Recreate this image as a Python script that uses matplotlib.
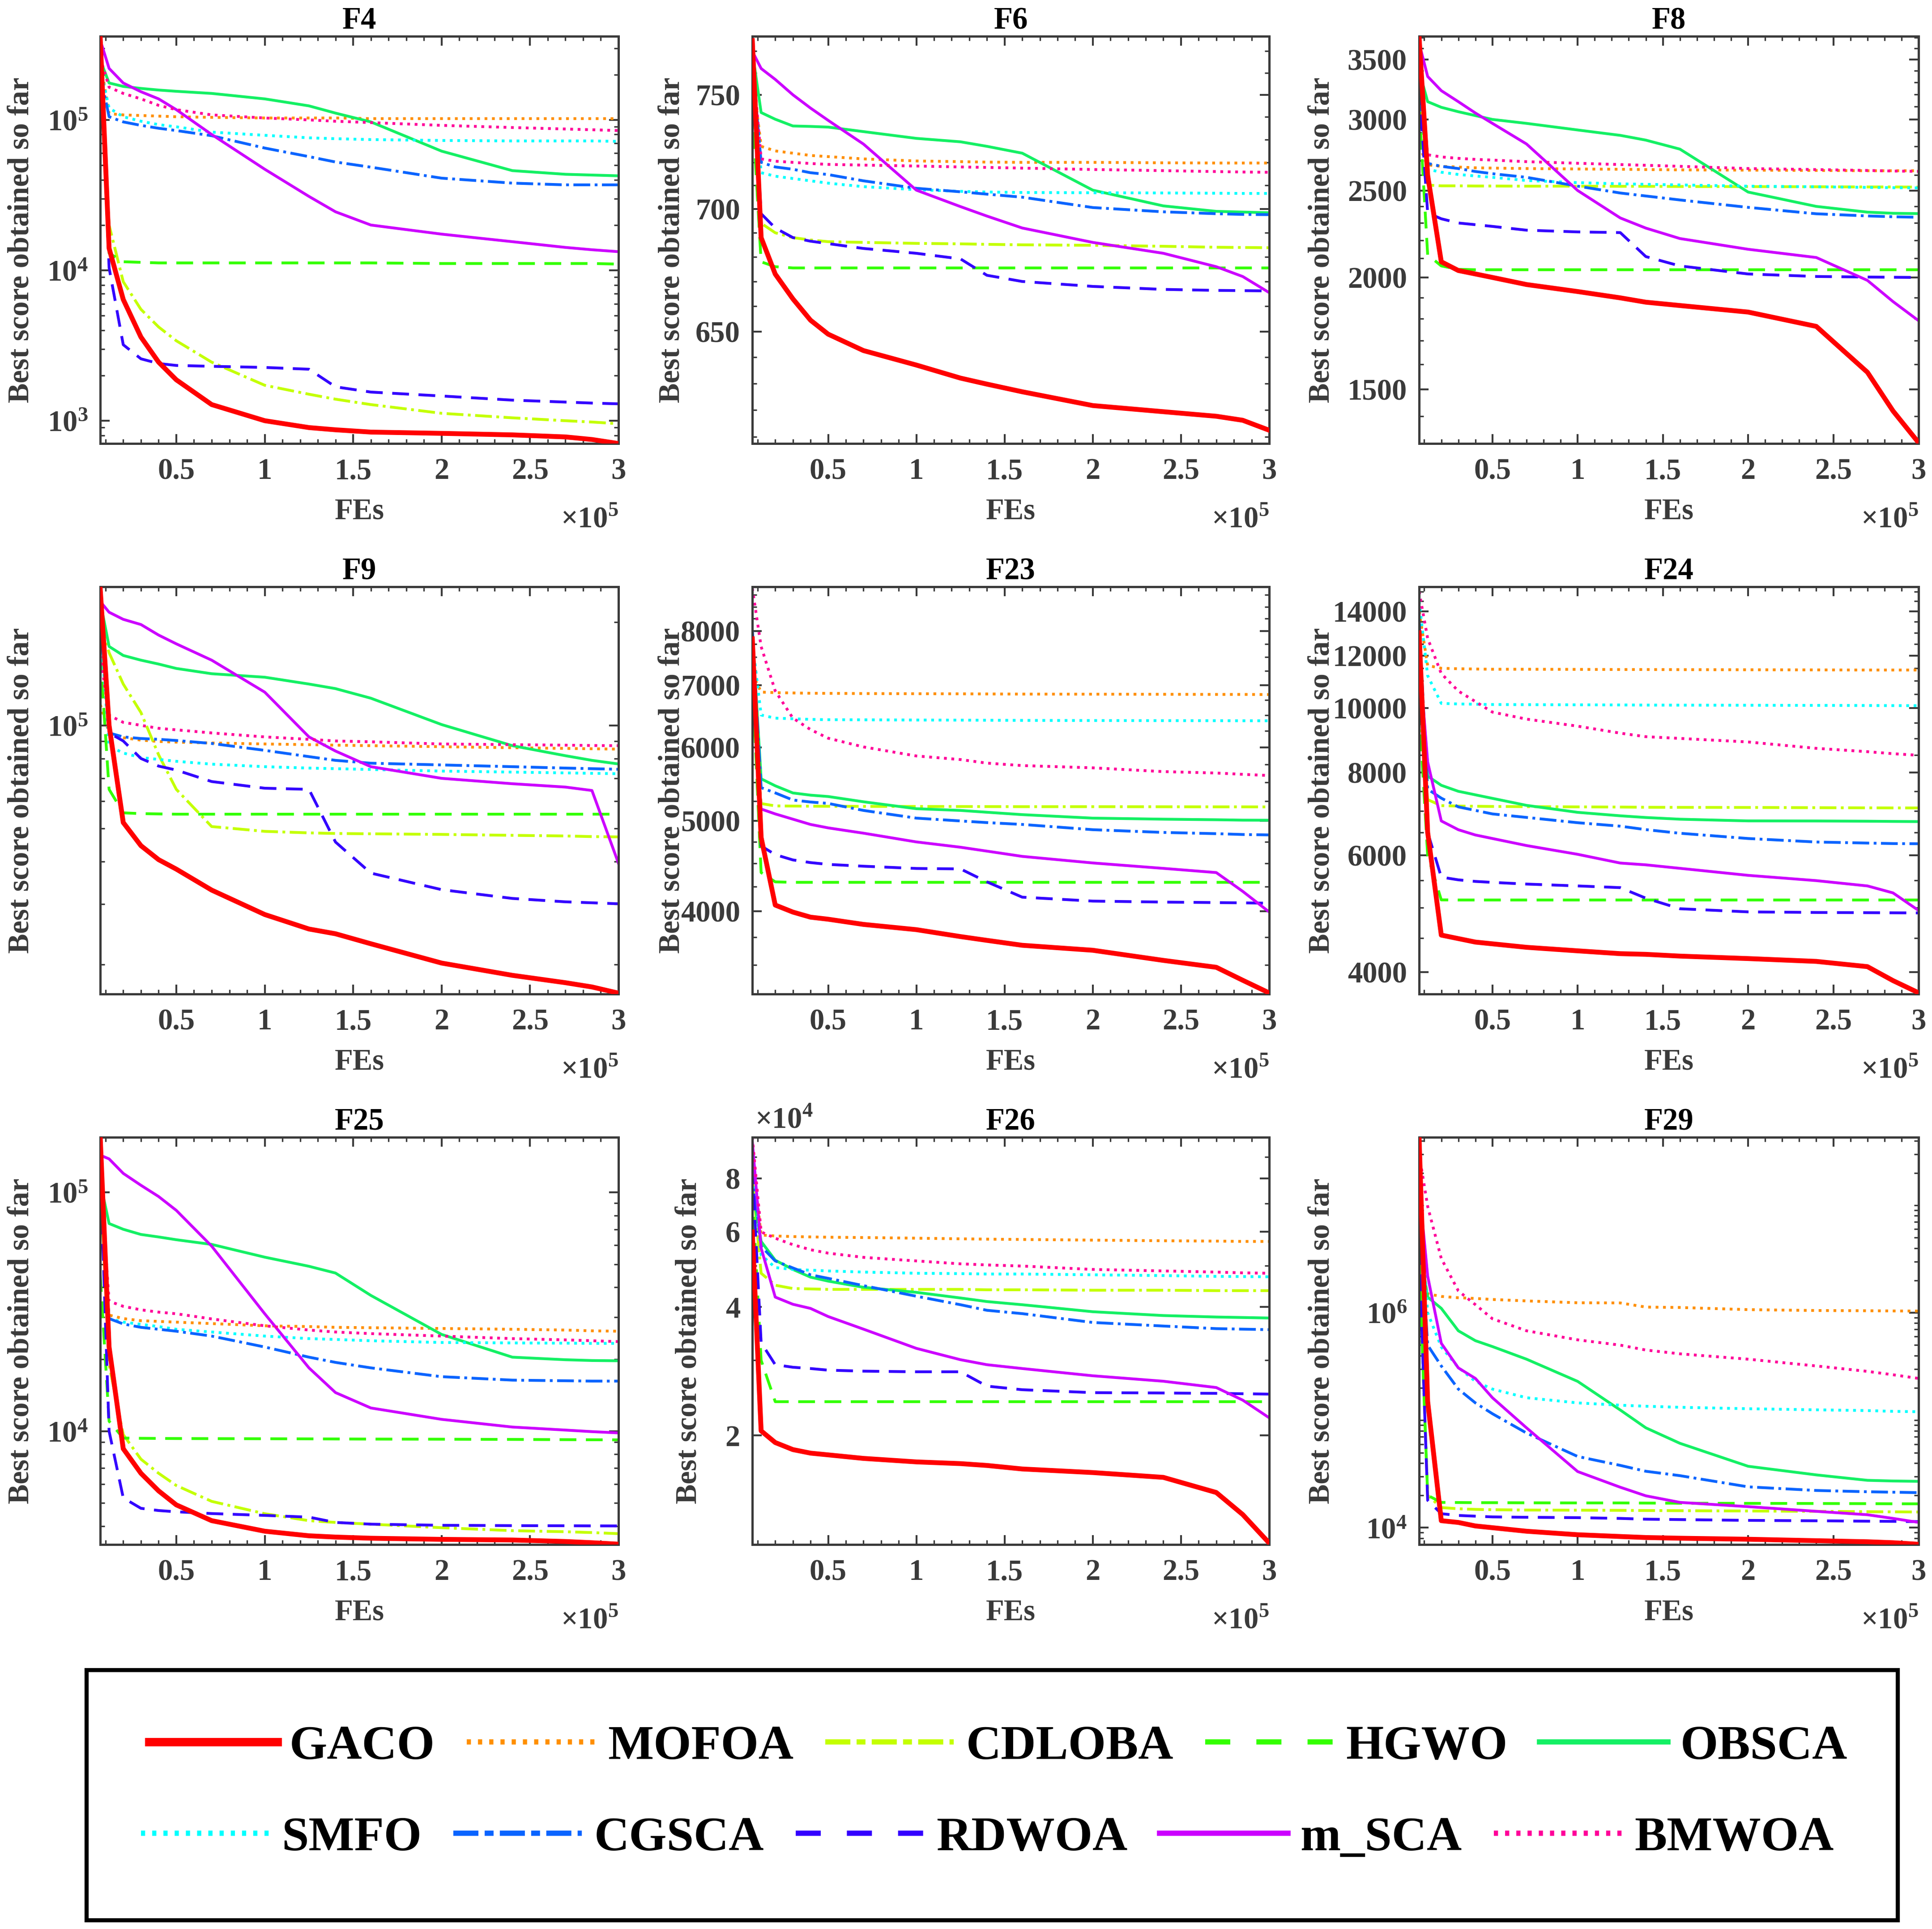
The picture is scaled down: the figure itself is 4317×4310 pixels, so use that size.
import numpy as np
import matplotlib
matplotlib.use('Agg')
import matplotlib.pyplot as plt
from matplotlib.ticker import FixedLocator, MultipleLocator, LogLocator, FuncFormatter, NullFormatter
from matplotlib.lines import Line2D
from matplotlib.patches import Rectangle

# fonts: Times-like bold everywhere
plt.rcParams['font.family'] = ['Liberation Serif', 'DejaVu Serif']
plt.rcParams['font.weight'] = 'bold'
plt.rcParams['axes.labelweight'] = 'bold'
plt.rcParams['mathtext.fontset'] = 'custom'
plt.rcParams['mathtext.rm'] = 'Liberation Serif'
plt.rcParams['mathtext.bf'] = 'Liberation Serif:bold'
plt.rcParams['axes.linewidth'] = 1.2

GREY = '#3a3a3a'

# sampled FEs
fes = [7e3, 1.2e4, 2e4, 3e4, 4e4, 5e4, 7e4, 1e5, 1.25e5, 1.4e5, 1.6e5, 2e5, 2.4e5, 2.7e5, 2.85e5, 3e5]

algos = ['GACO', 'MOFOA', 'CDLOBA', 'HGWO', 'OBSCA', 'SMFO', 'CGSCA', 'RDWOA', 'm_SCA', 'BMWOA']
colors = ['#FF0000', '#FF8F00', '#C4FF00', '#33FF00', '#14F064',
          '#00FFFF', '#0A64FF', '#3300FF', '#CC00FF', '#FF0099']
styles = ['-', ':', '-.', '--', '-', ':', '-.', '--', '-', ':']

f4 = {
    'GACO':   [3.5e5, 1.4e4, 6400, 3600, 2450, 1870, 1280, 1000, 900, 870, 840, 824, 805, 780, 750, 705],
    'MOFOA':  [2.5e5, 1.1e5, 1.08e5, 1.07e5, 1.06e5, 1.05e5, 1.04e5, 1.03e5, 1.03e5, 1.03e5, 1.02e5, 1.02e5, 1.02e5, 1.02e5, 1.02e5, 1.02e5],
    'CDLOBA': [3e5, 2.0e4, 8400, 5500, 4200, 3400, 2450, 1720, 1500, 1390, 1280, 1120, 1045, 1000, 980, 955],
    'HGWO':   [2.5e5, 1.3e4, 1.14e4, 1.13e4, 1.12e4, 1.12e4, 1.12e4, 1.12e4, 1.12e4, 1.12e4, 1.12e4, 1.11e4, 1.11e4, 1.11e4, 1.11e4, 1.1e4],
    'OBSCA':  [2.5e5, 1.76e5, 1.67e5, 1.62e5, 1.58e5, 1.55e5, 1.5e5, 1.38e5, 1.24e5, 1.11e5, 9.7e4, 6.2e4, 4.6e4, 4.35e4, 4.3e4, 4.25e4],
    'SMFO':   [2.2e5, 1.2e5, 1.05e5, 9.8e4, 9.3e4, 9.0e4, 8.3e4, 7.9e4, 7.6e4, 7.5e4, 7.4e4, 7.3e4, 7.25e4, 7.25e4, 7.25e4, 7.2e4],
    'CGSCA':  [2e5, 1.05e5, 9.7e4, 9.2e4, 8.8e4, 8.5e4, 7.85e4, 6.5e4, 5.7e4, 5.25e4, 4.85e4, 4.1e4, 3.8e4, 3.7e4, 3.7e4, 3.7e4],
    'RDWOA':  [3e5, 1.04e4, 3200, 2580, 2400, 2330, 2300, 2260, 2200, 1680, 1550, 1460, 1370, 1330, 1310, 1295],
    'm_SCA':  [3.4e5, 2.2e5, 1.76e5, 1.54e5, 1.38e5, 1.17e5, 8.0e4, 4.7e4, 3.1e4, 2.45e4, 2.0e4, 1.74e4, 1.55e4, 1.42e4, 1.37e4, 1.33e4],
    'BMWOA':  [2.6e5, 1.65e5, 1.5e5, 1.38e5, 1.25e5, 1.17e5, 1.08e5, 1.03e5, 1.0e5, 9.8e4, 9.6e4, 9.2e4, 8.9e4, 8.7e4, 8.6e4, 8.5e4],
}

f6 = {
    'GACO':   [775, 688, 673, 663, 654.5, 649, 642.6, 637, 632, 629.7, 626.8, 621.6, 619.3, 617.6, 616.1, 612.4],
    'MOFOA':  [760, 727, 725, 724, 723, 722.5, 721.5, 720.6, 720.3, 720.1, 720, 720, 719.8, 719.7, 719.7, 719.7],
    'CDLOBA': [755, 694, 690, 688, 687, 686.3, 686, 685.6, 685.4, 685.2, 685, 684.8, 684.4, 684, 683.9, 683.8],
    'HGWO':   [745, 678, 676, 675.5, 675.5, 675.5, 675.5, 675.5, 675.5, 675.5, 675.5, 675.5, 675.5, 675.5, 675.5, 675.5],
    'OBSCA':  [770, 742, 739, 736, 735.8, 735.5, 733.5, 730.5, 729, 727, 724, 708, 701.3, 699, 698.7, 698.4],
    'SMFO':   [765, 715.5, 714, 713, 712, 711, 709.5, 708.2, 707.5, 707.2, 707, 706.9, 706.8, 706.7, 706.6, 706.6],
    'CGSCA':  [765, 720, 718, 717, 715.5, 714.7, 712, 708.8, 707.3, 706.3, 705, 700.6, 698.8, 698, 697.7, 697.6],
    'RDWOA':  [768, 698, 692, 688, 686.5, 685.5, 683.5, 681.5, 679.2, 672.5, 670, 668, 666.8, 666.4, 666.3, 666.2],
    'm_SCA':  [770, 762, 757, 750, 744, 738.5, 728, 708, 701, 697, 692, 686, 681.5, 676, 672, 665.5],
    'BMWOA':  [768, 721.5, 720.5, 720, 719.5, 719.1, 718.8, 718.4, 718, 717.8, 717.5, 716.9, 716.4, 716, 715.8, 715.7],
}

f8 = {
    'GACO':   [3700, 2600, 2082, 2036, 2018, 2000, 1964, 1929, 1898, 1877, 1861, 1830, 1764, 1568, 1420, 1309],
    'MOFOA':  [2800, 2670, 2660, 2655, 2650, 2648, 2645, 2642, 2640, 2638, 2636, 2634, 2632, 2630, 2630, 2630],
    'CDLOBA': [3300, 2535, 2530, 2530, 2529, 2529, 2528, 2528, 2527, 2527, 2526, 2525, 2524, 2523, 2523, 2522],
    'HGWO':   [3100, 2120, 2060, 2042, 2040, 2040, 2040, 2040, 2040, 2040, 2040, 2040, 2040, 2040, 2040, 2040],
    'OBSCA':  [3400, 3140, 3095, 3060, 3030, 3000, 2970, 2920, 2880, 2845, 2780, 2490, 2400, 2365, 2358, 2356],
    'SMFO':   [3200, 2640, 2620, 2605, 2595, 2586, 2565, 2551, 2543, 2540, 2536, 2528, 2524, 2520, 2518, 2517],
    'CGSCA':  [3200, 2680, 2660, 2645, 2625, 2610, 2586, 2528, 2484, 2465, 2440, 2394, 2355, 2342, 2337, 2334],
    'RDWOA':  [3250, 2360, 2325, 2300, 2290, 2280, 2258, 2248, 2244, 2110, 2060, 2018, 2005, 2002, 2001, 2000],
    'm_SCA':  [3650, 3350, 3230, 3140, 3050, 2970, 2817, 2500, 2330, 2270, 2210, 2150, 2105, 1985, 1880, 1790],
    'BMWOA':  [3500, 2740, 2725, 2715, 2708, 2703, 2692, 2681, 2672, 2667, 2660, 2645, 2638, 2632, 2628, 2626],
}

f9 = {
    'GACO':   [2.5e5, 1.0e5, 5.2e4, 4.45e4, 4.05e4, 3.8e4, 3.3e4, 2.8e4, 2.54e4, 2.46e4, 2.3e4, 2.02e4, 1.86e4, 1.77e4, 1.72e4, 1.65e4],
    'MOFOA':  [1.15e5, 9.5e4, 9.2e4, 9.05e4, 8.97e4, 8.93e4, 8.88e4, 8.82e4, 8.78e4, 8.75e4, 8.72e4, 8.66e4, 8.6e4, 8.56e4, 8.54e4, 8.52e4],
    'CDLOBA': [2.0e5, 1.63e5, 1.32e5, 1.09e5, 8.2e4, 6.5e4, 5.06e4, 4.9e4, 4.85e4, 4.83e4, 4.82e4, 4.8e4, 4.77e4, 4.75e4, 4.73e4, 4.72e4],
    'HGWO':   [1.6e5, 6.5e4, 5.55e4, 5.52e4, 5.51e4, 5.5e4, 5.5e4, 5.5e4, 5.5e4, 5.5e4, 5.5e4, 5.5e4, 5.5e4, 5.5e4, 5.5e4, 5.5e4],
    'OBSCA':  [2.3e5, 1.7e5, 1.6e5, 1.55e5, 1.51e5, 1.466e5, 1.415e5, 1.382e5, 1.32e5, 1.28e5, 1.2e5, 1.005e5, 8.72e4, 8.15e4, 7.9e4, 7.71e4],
    'SMFO':   [2.0e5, 8.7e4, 8.3e4, 8.05e4, 7.95e4, 7.85e4, 7.7e4, 7.57e4, 7.5e4, 7.47e4, 7.43e4, 7.35e4, 7.3e4, 7.26e4, 7.24e4, 7.22e4],
    'CGSCA':  [2.1e5, 9.5e4, 9.25e4, 9.15e4, 9.1e4, 9.03e4, 8.85e4, 8.45e4, 8.1e4, 7.9e4, 7.75e4, 7.66e4, 7.57e4, 7.5e4, 7.47e4, 7.44e4],
    'RDWOA':  [2.2e5, 9.5e4, 9.0e4, 8.0e4, 7.6e4, 7.4e4, 6.85e4, 6.55e4, 6.5e4, 4.56e4, 3.7e4, 3.31e4, 3.12e4, 3.05e4, 3.03e4, 3.01e4],
    'm_SCA':  [2.3e5, 2.14e5, 2.04e5, 1.97e5, 1.835e5, 1.73e5, 1.55e5, 1.25e5, 9.25e4, 8.41e4, 7.57e4, 7.0e4, 6.75e4, 6.6e4, 6.45e4, 3.95e4],
    'BMWOA':  [1.6e5, 1.07e5, 1.02e5, 1.0e5, 9.8e4, 9.7e4, 9.5e4, 9.25e4, 9.1e4, 9.0e4, 8.95e4, 8.82e4, 8.78e4, 8.75e4, 8.73e4, 8.72e4],
}

f23 = {
    'GACO':   [7850, 4800, 4060, 3990, 3940, 3920, 3870, 3820, 3755, 3720, 3675, 3630, 3540, 3480, 3370, 3266],
    'MOFOA':  [7200, 6880, 6870, 6865, 6860, 6858, 6855, 6852, 6850, 6848, 6846, 6844, 6842, 6840, 6840, 6838],
    'CDLOBA': [7000, 5220, 5190, 5188, 5186, 5185, 5184, 5183, 5182, 5181, 5180, 5180, 5179, 5178, 5178, 5177],
    'HGWO':   [7200, 4400, 4300, 4295, 4295, 4295, 4295, 4295, 4295, 4295, 4295, 4295, 4295, 4295, 4295, 4295],
    'OBSCA':  [8000, 5550, 5455, 5359, 5330, 5312, 5243, 5154, 5132, 5109, 5079, 5035, 5022, 5015, 5010, 5009],
    'SMFO':   [7800, 6500, 6450, 6440, 6430, 6425, 6423, 6420, 6418, 6416, 6414, 6412, 6410, 6409, 6408, 6408],
    'CGSCA':  [8000, 5430, 5360, 5266, 5240, 5222, 5132, 5035, 5000, 4980, 4957, 4893, 4860, 4845, 4835, 4830],
    'RDWOA':  [8000, 4700, 4600, 4540, 4510, 4490, 4470, 4445, 4440, 4300, 4140, 4100, 4090, 4085, 4082, 4079],
    'm_SCA':  [7000, 5150, 5088, 5022, 4957, 4915, 4851, 4747, 4685, 4640, 4580, 4506, 4446, 4400, 4200, 3991],
    'BMWOA':  [8900, 7700, 6900, 6450, 6270, 6137, 6006, 5873, 5821, 5770, 5735, 5703, 5650, 5630, 5612, 5595],
}

f24 = {
    'GACO':   [13000, 6500, 4548, 4493, 4439, 4412, 4359, 4306, 4264, 4254, 4228, 4192, 4151, 4076, 3883, 3722],
    'MOFOA':  [14000, 11600, 11490, 11470, 11460, 11450, 11450, 11445, 11440, 11440, 11435, 11430, 11425, 11420, 11420, 11420],
    'CDLOBA': [10000, 7280, 7130, 7120, 7115, 7110, 7105, 7100, 7095, 7090, 7088, 7085, 7080, 7076, 7074, 7073],
    'HGWO':   [10000, 6000, 5140, 5138, 5138, 5138, 5138, 5138, 5138, 5138, 5138, 5138, 5138, 5138, 5138, 5138],
    'OBSCA':  [11000, 7900, 7652, 7494, 7403, 7313, 7137, 6966, 6883, 6842, 6802, 6762, 6760, 6755, 6750, 6746],
    'SMFO':   [14500, 11200, 10170, 10150, 10140, 10130, 10125, 10120, 10115, 10110, 10108, 10105, 10100, 10095, 10092, 10090],
    'CGSCA':  [13500, 7550, 7318, 7099, 7013, 6928, 6844, 6720, 6639, 6560, 6478, 6361, 6284, 6261, 6250, 6246],
    'RDWOA':  [13500, 6500, 5562, 5510, 5480, 5462, 5430, 5395, 5363, 5170, 4984, 4930, 4920, 4916, 4914, 4912],
    'm_SCA':  [12000, 8300, 6761, 6558, 6439, 6361, 6207, 6021, 5841, 5805, 5735, 5597, 5495, 5395, 5266, 4954],
    'BMWOA':  [15000, 12750, 11280, 10616, 10235, 9867, 9630, 9397, 9171, 9060, 9005, 8895, 8700, 8600, 8540, 8493],
}

f25 = {
    'GACO':   [1.7e5, 2.25e4, 8440, 6660, 5620, 4910, 4217, 3810, 3645, 3600, 3560, 3522, 3500, 3450, 3410, 3362],
    'MOFOA':  [3.4e4, 3.06e4, 2.96e4, 2.9e4, 2.88e4, 2.86e4, 2.82e4, 2.76e4, 2.74e4, 2.72e4, 2.71e4, 2.69e4, 2.67e4, 2.65e4, 2.63e4, 2.62e4],
    'CDLOBA': [1.2e5, 1.9e4, 9670, 7630, 6660, 5920, 5080, 4510, 4217, 4146, 4077, 3941, 3830, 3790, 3760, 3720],
    'HGWO':   [4.5e4, 1.1e4, 9350, 9330, 9320, 9310, 9300, 9290, 9280, 9270, 9260, 9250, 9230, 9210, 9200, 9190],
    'OBSCA':  [1.1e5, 7.4e4, 7.0e4, 6.66e4, 6.5e4, 6.33e4, 6.05e4, 5.35e4, 4.9e4, 4.59e4, 3.7e4, 2.54e4, 2.04e4, 1.99e4, 1.975e4, 1.97e4],
    'SMFO':   [1.0e5, 2.96e4, 2.86e4, 2.8e4, 2.74e4, 2.67e4, 2.6e4, 2.5e4, 2.44e4, 2.42e4, 2.39e4, 2.35e4, 2.34e4, 2.335e4, 2.33e4, 2.33e4],
    'CGSCA':  [1.2e5, 2.96e4, 2.81e4, 2.72e4, 2.67e4, 2.62e4, 2.5e4, 2.25e4, 2.04e4, 1.94e4, 1.84e4, 1.69e4, 1.635e4, 1.625e4, 1.62e4, 1.62e4],
    'RDWOA':  [1.3e5, 1.0e4, 5255, 4750, 4650, 4594, 4517, 4437, 4363, 4146, 4077, 4033, 4020, 4015, 4010, 4008],
    'm_SCA':  [1.43e5, 1.38e5, 1.2e5, 1.07e5, 9.6e4, 8.4e4, 5.95e4, 3.1e4, 1.84e4, 1.45e4, 1.25e4, 1.12e4, 1.04e4, 1.01e4, 9950, 9830],
    'BMWOA':  [1.2e5, 3.5e4, 3.33e4, 3.22e4, 3.15e4, 3.1e4, 2.95e4, 2.76e4, 2.65e4, 2.6e4, 2.56e4, 2.5e4, 2.44e4, 2.41e4, 2.39e4, 2.37e4],
}

f26 = {
    'GACO':   [6.0e4, 2.05e4, 1.925e4, 1.853e4, 1.818e4, 1.801e4, 1.767e4, 1.734e4, 1.718e4, 1.701e4, 1.669e4, 1.637e4, 1.595e4, 1.47e4, 1.305e4, 1.119e4],
    'MOFOA':  [9e4, 5.9e4, 5.87e4, 5.85e4, 5.84e4, 5.83e4, 5.82e4, 5.8e4, 5.78e4, 5.77e4, 5.76e4, 5.74e4, 5.72e4, 5.71e4, 5.7e4, 5.7e4],
    'CDLOBA': [8e4, 4.8e4, 4.5e4, 4.42e4, 4.41e4, 4.4e4, 4.4e4, 4.4e4, 4.4e4, 4.39e4, 4.39e4, 4.38e4, 4.38e4, 4.37e4, 4.37e4, 4.37e4],
    'HGWO':   [7.5e4, 3.0e4, 2.4e4, 2.4e4, 2.4e4, 2.4e4, 2.4e4, 2.4e4, 2.4e4, 2.4e4, 2.4e4, 2.4e4, 2.4e4, 2.4e4, 2.4e4, 2.4e4],
    'OBSCA':  [7.5e4, 5.7e4, 5.15e4, 4.9e4, 4.7e4, 4.6e4, 4.45e4, 4.33e4, 4.2e4, 4.12e4, 4.05e4, 3.9e4, 3.82e4, 3.79e4, 3.78e4, 3.77e4],
    'SMFO':   [9e4, 5.3e4, 4.95e4, 4.9e4, 4.88e4, 4.86e4, 4.83e4, 4.8e4, 4.79e4, 4.78e4, 4.78e4, 4.76e4, 4.74e4, 4.72e4, 4.715e4, 4.71e4],
    'CGSCA':  [8.5e4, 5.55e4, 5.13e4, 4.94e4, 4.76e4, 4.67e4, 4.49e4, 4.24e4, 4.05e4, 3.93e4, 3.86e4, 3.68e4, 3.61e4, 3.56e4, 3.55e4, 3.54e4],
    'RDWOA':  [8.5e4, 3.3e4, 2.93e4, 2.89e4, 2.87e4, 2.845e4, 2.83e4, 2.82e4, 2.82e4, 2.61e4, 2.56e4, 2.52e4, 2.515e4, 2.51e4, 2.505e4, 2.5e4],
    'm_SCA':  [9.8e4, 5.5e4, 4.22e4, 4.06e4, 3.97e4, 3.8e4, 3.55e4, 3.2e4, 3.01e4, 2.93e4, 2.87e4, 2.76e4, 2.68e4, 2.59e4, 2.42e4, 2.2e4],
    'BMWOA':  [1.0e5, 6.0e4, 5.8e4, 5.6e4, 5.45e4, 5.35e4, 5.23e4, 5.13e4, 5.05e4, 5.02e4, 4.99e4, 4.9e4, 4.86e4, 4.83e4, 4.81e4, 4.8e4],
}

f29 = {
    'GACO':   [4.2e7, 1.5e5, 1.162e4, 1.119e4, 1.038e4, 1.0e4, 9270, 8600, 8280, 8100, 7980, 7810, 7570, 7400, 7250, 7010],
    'MOFOA':  [2.0e6, 1.5e6, 1.42e6, 1.38e6, 1.36e6, 1.33e6, 1.29e6, 1.24e6, 1.235e6, 1.13e6, 1.12e6, 1.07e6, 1.05e6, 1.045e6, 1.04e6, 1.038e6],
    'CDLOBA': [3.5e6, 2e4, 1.54e4, 1.5e4, 1.48e4, 1.47e4, 1.46e4, 1.455e4, 1.45e4, 1.445e4, 1.44e4, 1.43e4, 1.42e4, 1.41e4, 1.405e4, 1.40e4],
    'HGWO':   [3e6, 2e4, 1.72e4, 1.715e4, 1.71e4, 1.71e4, 1.705e4, 1.7e4, 1.7e4, 1.695e4, 1.69e4, 1.685e4, 1.68e4, 1.675e4, 1.67e4, 1.668e4],
    'OBSCA':  [4.5e6, 1.4e6, 1.1e6, 6.8e5, 5.5e5, 4.85e5, 3.7e5, 2.3e5, 1.245e5, 8.5e4, 6.1e4, 3.73e4, 3.1e4, 2.76e4, 2.72e4, 2.70e4],
    'SMFO':   [1.5e7, 1.0e6, 4.8e5, 3.1e5, 2.3e5, 1.95e5, 1.62e5, 1.45e5, 1.38e5, 1.35e5, 1.32e5, 1.28e5, 1.25e5, 1.23e5, 1.21e5, 1.2e5],
    'CGSCA':  [1e7, 5e5, 3.2e5, 1.95e5, 1.45e5, 1.15e5, 7.6e4, 4.6e4, 3.8e4, 3.35e4, 3.05e4, 2.4e4, 2.22e4, 2.16e4, 2.14e4, 2.12e4],
    'RDWOA':  [4e6, 1.8e4, 1.35e4, 1.3e4, 1.28e4, 1.26e4, 1.25e4, 1.24e4, 1.22e4, 1.2e4, 1.19e4, 1.17e4, 1.16e4, 1.15e4, 1.145e4, 1.14e4],
    'm_SCA':  [1.5e7, 2.2e6, 5.2e5, 3.07e5, 2.45e5, 1.62e5, 8.5e4, 3.33e4, 2.38e4, 1.98e4, 1.72e4, 1.57e4, 1.42e4, 1.32e4, 1.22e4, 1.12e4],
    'BMWOA':  [3.0e7, 9.8e6, 3.2e6, 1.6e6, 1.19e6, 8.8e5, 6.8e5, 5.6e5, 5.0e5, 4.5e5, 4.15e5, 3.7e5, 3.2e5, 2.85e5, 2.65e5, 2.45e5],
}

titles = ['F4', 'F6', 'F8', 'F9', 'F23', 'F24', 'F25', 'F26', 'F29']
curves = [f4, f6, f8, f9, f23, f24, f25, f26, f29]
ylims = [(705, 3.6e5), (607.5, 777), (1306, 3714), (1.64e4, 2.54e5), (3257, 8930),
         (3706, 15250), (3350, 1.70e5), (1.11e4, 1.0e5), (6970, 4.3e7)]
major_y = [[1e3, 1e4, 1e5], [650, 700, 750], [1500, 2000, 2500, 3000, 3500], [1e5],
           [4000, 5000, 6000, 7000, 8000], [4000, 6000, 8000, 10000, 12000, 14000],
           [1e4, 1e5], [2e4, 4e4, 6e4, 8e4], [1e4, 1e6]]
minor_y = [None, 10, 100, None, 250, 500, None, 1e4, None]
label_kind = ['pow', 'int', 'int', 'pow', 'int', 'int', 'pow', 'e4', 'pow']

# layout in pixels of the 4317x4310 canvas
W, H = 4317, 4310
col_left = [224, 1681, 3171]
col_right = [1382, 2836, 4287]
row_top = [81, 1311, 2541]
ax_h = 910
ylab_off = [-146, -149, -188, -146, -149, -188, -146, -112, -188]

plot_dash = {':': (0, (1, 1.65)), '--': (0, (6.0, 3.4)), '-.': (0, (6.0, 1.6, 1, 1.6)), '-': '-'}
leg_dash = {':': (0, (0.8, 1.35)), '--': (0, (4.8, 5.0)), '-.': (0, (4.8, 1.2, 1.7, 1.2)), '-': '-'}


def pow_fmt(v, pos):
    return r'$\mathbf{10^{%d}}$' % round(np.log10(v))


fig = plt.figure(figsize=(W / 300, H / 300), dpi=300)

for i in range(9):
    r, c = divmod(i, 3)
    wpx = col_right[c] - col_left[c]
    ax = fig.add_axes([col_left[c] / W, 1 - (row_top[r] + ax_h) / H, wpx / W, ax_h / H])
    data = curves[i]
    for name, col, ls in zip(algos, colors, styles):
        main = name == 'GACO'
        ax.plot(fes, data[name], color=col, linestyle=plot_dash[ls],
                lw=2.6 if main else 1.5, zorder=3 if main else 2)
    ax.set_yscale('log')
    ax.set_xlim(7000, 3e5)
    ax.set_ylim(*ylims[i])

    ax.xaxis.set_major_locator(FixedLocator([5e4, 1e5, 1.5e5, 2e5, 2.5e5, 3e5]))
    ax.xaxis.set_major_formatter(FuncFormatter(lambda v, p: '%g' % (v / 1e5)))
    ax.xaxis.set_minor_locator(MultipleLocator(1e4))

    ax.yaxis.set_major_locator(FixedLocator(major_y[i]))
    if minor_y[i] is None:
        ax.yaxis.set_minor_locator(LogLocator(base=10, subs=np.arange(1, 10), numticks=60))
    else:
        ax.yaxis.set_minor_locator(MultipleLocator(minor_y[i]))
    ax.yaxis.set_minor_formatter(NullFormatter())
    if label_kind[i] == 'pow':
        ax.yaxis.set_major_formatter(FuncFormatter(pow_fmt))
    elif label_kind[i] == 'e4':
        ax.yaxis.set_major_formatter(FuncFormatter(lambda v, p: '%g' % (v / 1e4)))
    else:
        ax.yaxis.set_major_formatter(FuncFormatter(lambda v, p: '%d' % round(v)))

    ax.tick_params(which='both', direction='in', top=True, right=True,
                   colors=GREY, labelsize=16)
    ax.tick_params(which='major', length=5, width=1.0)
    ax.tick_params(which='minor', length=2.5, width=0.8)
    ax.tick_params(axis='x', pad=7.7)
    ax.tick_params(axis='y', pad=6.5)
    for s in ax.spines.values():
        s.set_color(GREY)

    ax.set_title(titles[i], fontsize=16.5, fontweight='bold', color='black', pad=4)
    ax.set_xlabel('FEs', fontsize=16, fontweight='bold', color=GREY)
    ax.xaxis.set_label_coords(0.5, -0.133)
    ax.set_ylabel('Best score obtained so far', fontsize=16, fontweight='bold', color=GREY)
    ax.yaxis.set_label_coords(ylab_off[i] / wpx, 0.5)
    ax.text(1.0, -0.189, r'$\times 10^{5}$', transform=ax.transAxes,
            ha='right', va='center', fontsize=16, color=GREY)
    if label_kind[i] == 'e4':
        ax.text(0.005, 1.04, r'$\times 10^{4}$', transform=ax.transAxes,
                ha='left', va='center', fontsize=16, color=GREY)

# legend box with two rows
fig.add_artist(Rectangle((0.0447, 0.0046), 0.9375, 0.1297, transform=fig.transFigure,
                         facecolor='white', edgecolor='black', lw=2.2, zorder=0))
handles = [Line2D([], [], color=col, linestyle=leg_dash[ls], lw=4.5 if n == 'GACO' else 2.8)
           for n, col, ls in zip(algos, colors, styles)]
for row, yc, xc in [(0, 0.0942, 0.5166), (1, 0.0469, 0.511)]:
    sl = slice(5 * row, 5 * row + 5)
    fig.legend(handles[sl], algos[sl], loc='center', bbox_to_anchor=(xc, yc), ncol=5,
               frameon=False, prop={'size': 26, 'weight': 'bold'}, handlelength=2.65,
               handletextpad=0.25, columnspacing=0.66)

fig.savefig('out.png', dpi=300, facecolor='white')
